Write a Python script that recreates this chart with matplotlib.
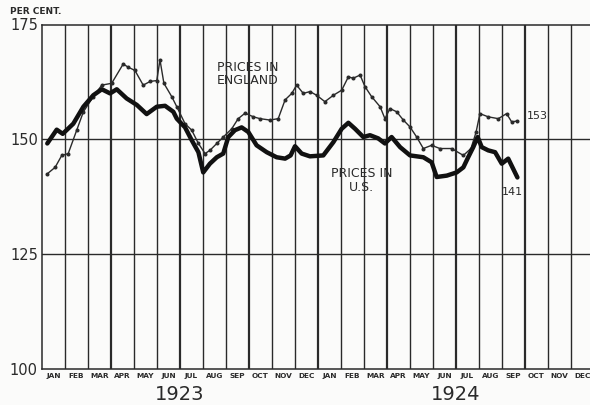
import matplotlib
matplotlib.use("Agg")
import matplotlib.pyplot as plt

# ---- data (x = months since Jan 1 1923, y = per cent) ----
us_month = [0.23, 0.64, 0.90, 1.36, 1.80, 2.23, 2.60, 2.96, 3.25, 3.68, 4.12, 4.55, 4.99, 5.35,
            5.71, 5.86, 6.22, 6.51, 6.80, 7.01, 7.30, 7.60, 7.88, 8.10, 8.39, 8.68, 8.97, 9.33,
            9.77, 10.20, 10.57, 10.81, 11.00, 11.29, 11.65, 12.23, 12.67, 13.03, 13.32, 13.61,
            13.97, 14.26, 14.62, 14.91, 15.20, 15.57, 16.00, 16.58, 16.94, 17.16, 17.60, 18.03,
            18.32, 18.53, 18.75, 18.94, 19.12, 19.40, 19.70, 19.99, 20.27, 20.67]
us_value = [149.1, 152.1, 151.2, 153.4, 157.1, 159.6, 160.9, 160.0, 160.9, 158.9, 157.5, 155.5, 157.1, 157.3,
            156.0, 154.5, 152.6, 149.8, 147.2, 142.8, 144.7, 146.1, 146.9, 150.5, 152.0, 152.6, 151.6, 148.7,
            147.2, 146.1, 145.8, 146.5, 148.5, 146.9, 146.3, 146.5, 149.4, 152.3, 153.6, 152.3,
            150.5, 150.9, 150.2, 149.1, 150.5, 148.3, 146.5, 146.1, 145.0, 141.8, 142.1, 142.8,
            143.9, 146.1, 148.3, 150.5, 148.3, 147.6, 147.2, 144.7, 145.8, 141.7]

eng_month = [0.23, 0.57, 0.86, 1.14, 1.51, 1.80, 2.23, 2.60, 3.03, 3.53, 3.75, 4.04, 4.40, 4.70,
             4.99, 5.13, 5.30, 5.64, 5.86, 6.22, 6.51, 6.80, 7.09, 7.30, 7.60, 7.88, 8.25, 8.53,
             8.83, 9.19, 9.48, 9.91, 10.27, 10.57, 10.86, 11.07, 11.36, 11.65, 11.94, 12.30, 12.67,
             13.03, 13.32, 13.53, 13.83, 14.04, 14.33, 14.70, 14.91, 15.13, 15.42, 15.71, 16.00,
             16.29, 16.58, 16.94, 17.30, 17.81, 18.32, 18.65, 18.87, 19.04, 19.40, 19.84, 20.20,
             20.42, 20.67]
eng_value = [142.5, 143.9, 146.5, 146.9, 152.0, 156.0, 159.3, 161.8, 162.2, 166.4, 165.7, 165.0, 161.8, 162.6,
             162.8, 167.3, 162.2, 159.3, 157.1, 153.4, 152.0, 149.1, 146.9, 147.6, 149.1, 150.5, 152.3, 154.5,
             155.7, 154.9, 154.5, 154.2, 154.5, 158.6, 160.0, 161.8, 160.0, 160.4, 159.6, 158.2, 159.6,
             160.7, 163.6, 163.3, 164.0, 161.5, 159.3, 157.1, 154.5, 156.7, 156.0, 154.2, 152.7,
             150.5, 148.0, 148.7, 148.0, 148.0, 146.5, 148.0, 151.5, 155.6, 154.9, 154.5, 155.6,
             153.8, 154.0]

month_labels = ["JAN", "FEB", "MAR", "APR", "MAY", "JUN", "JUL", "AUG", "SEP", "OCT", "NOV", "DEC"] * 2
year_labels = ["1923", "1924"]
y_ticks = [100, 125, 150, 175]

ink = "#2a2a2a"
fig = plt.figure(figsize=(5.9, 4.05), dpi=100, facecolor="#fbfbfa")
ax = fig.add_axes([42 / 590, 1 - 369 / 405, 552 / 590, (369 - 24.5) / 405])
ax.set_facecolor("#fbfbfa")
ax.set_xlim(0, 24)
ax.set_ylim(100, 175)

# grid
for m in range(1, 24):
    lw = 1.6 if m % 3 == 0 else 1.0
    ax.axvline(m, color=ink, lw=lw, zorder=1)
for v in [125, 150]:
    ax.axhline(v, color=ink, lw=1.0, zorder=1)
for s in ax.spines.values():
    s.set_color(ink)
    s.set_linewidth(1.1)

# series
ax.plot(eng_month, eng_value, color=ink, lw=1.0, marker="o", ms=1.9, zorder=3)
ax.plot(us_month, us_value, color="#111111", lw=3.2, solid_joinstyle="round",
        solid_capstyle="round", zorder=4)

# ticks
ax.set_yticks(y_ticks)
ax.set_yticklabels([str(t) for t in y_ticks], fontsize=10.5, color=ink)
ax.set_xticks([i + 0.5 for i in range(24)])
ax.set_xticklabels(month_labels, fontsize=5.3, fontweight="bold", color=ink)
ax.tick_params(length=0, pad=3)
ax.tick_params(axis="y", pad=3)

for i, yl in enumerate(year_labels):
    ax.text(6 + 12 * i, -0.075, yl, transform=ax.get_xaxis_transform(), ha="center", va="center",
            fontsize=14, color=ink)

# annotations
ax.text(7.6, 164.3, "PRICES IN\nENGLAND", fontsize=9, color=ink, ha="left", va="center",
        linespacing=1.0)
ax.text(13.9, 141.0, "PRICES IN\nU.S.", fontsize=9, color=ink, ha="center", va="center",
        linespacing=1.1)
ax.text(21.1, 155.0, "153", fontsize=8, color=ink, ha="left", va="center")
ax.text(20.0, 138.5, "141", fontsize=8, color=ink, ha="left", va="center")
fig.text(10 / 590, 1 - 12 / 405, "PER CENT.", fontsize=6.5, fontweight="bold", color=ink,
         ha="left", va="center")

fig.savefig("out.png", dpi=100, facecolor=fig.get_facecolor())
